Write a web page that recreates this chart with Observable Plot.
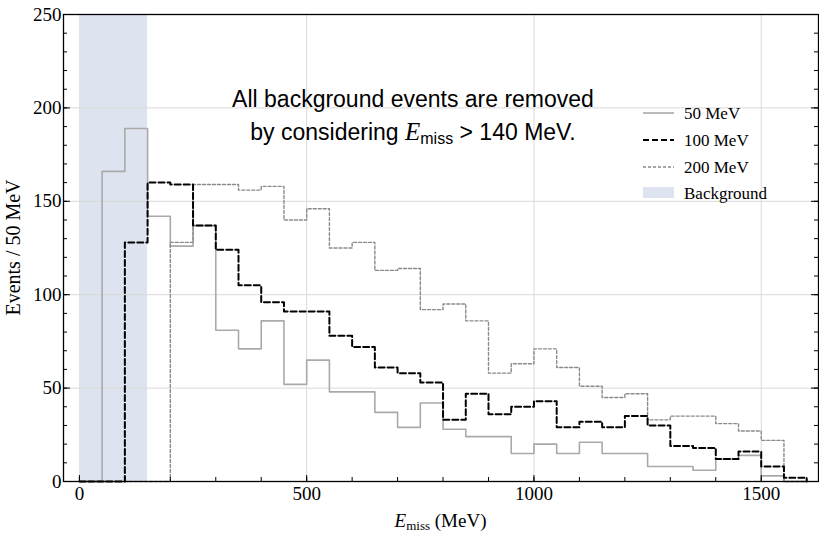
<!DOCTYPE html>
<html><head><meta charset="utf-8">
<script src="https://cdn.jsdelivr.net/npm/d3@7"></script>
<script src="https://cdn.jsdelivr.net/npm/@observablehq/plot@0.6"></script>
<style>
body{margin:0;background:#fff;}
#chart svg{display:block;}
</style></head><body><div id="chart"></div>
<script>
// ---- data (bin starts in MeV, 50 MeV bins) ----
const binStarts = [0,50,100,150,200,250,300,350,400,450,500,550,600,650,700,750,800,850,900,950,1000,1050,1100,1150,1200,1250,1300,1350,1400,1450,1500,1550];
const binEnd = 1600;
const mev50  = [0,166,189,142,126,137,81,71,86,52,65,48,48,37,29,42,28,24,24,15,20,15,21,15,15,8,8,6,12,14,3,0];
const mev100 = [0,0,128,160,159,137,124,105,96,91,91,78,72,61,58,53,33,47,36,40,43,29,32,29,35,30,19,18,12,16,8,2];
const mev200 = [0,0,0,0,128,159,159,156,158,140,146,125,128,113,114,92,95,86,58,63,71,61,51,45,47,33,35,35,31,27,22,0];
const seriesNames = ["50 MeV","100 MeV","200 MeV"];
const backgroundLabel = "Background";
const backgroundBand = [{x1:0, x2:150}];
const xTicks = [0,500,1000,1500];
const yTicks = [0,50,100,150,200,250];
const xMinorTicks = [0,100,200,300,400,500,600,700,800,900,1000,1100,1200,1300,1400,1500,1600];
const yMinorTicks = d3.range(0,251,10);
const xGrid = [500,1000,1500];
const yGrid = [50,100,150,200];
const noteLine1 = "All background events are removed";
const noteLine2 = ["by considering ","E","miss"," > 140 MeV."];
const yLabel = "Events / 50 MeV";
const xLabel = ["E","miss"," (MeV)"];

// ---- build tables ----
function rows(vals){ const r = binStarts.map((x,i)=>({x, y: vals[i]})); r.push({x: binEnd, y: 0}); return r; }
const r50 = rows(mev50), r100 = rows(mev100), r200 = rows(mev200);

const W = 819, H = 533, mL = 63, mR = 1, mT = 14, mB = 52;
const fw = W - mL - mR, fh = H - mT - mB;
const serif = "Liberation Serif";
const styles = [
  {stroke:"#a9a9a9", strokeWidth:1.6, dash:null},
  {stroke:"#000", strokeWidth:2, dash:"6,3"},
  {stroke:"#8a8a8a", strokeWidth:1.4, dash:"3,2"}
];
const bandFill = "#dde3ef";

const chart = Plot.plot({
  width: W, height: H,
  marginLeft: mL, marginRight: mR, marginTop: mT, marginBottom: mB,
  x: {domain: [-35, 1626], axis: null},
  y: {domain: [0, 250], axis: null},
  style: "font-family: 'Liberation Serif'; font-size: 18px; background: white; color: black;",
  marks: [
    Plot.rect(backgroundBand, {x1: "x1", x2: "x2", fill: bandFill}),
    Plot.gridY(yGrid, {stroke: "#d9d9d9", strokeOpacity: 1}),
    Plot.gridX(xGrid, {stroke: "#d9d9d9", strokeOpacity: 1}),
    Plot.line(r50, {x: "x", y: "y", curve: "step-after", stroke: styles[0].stroke, strokeWidth: styles[0].strokeWidth}),
    Plot.line(r200, {x: "x", y: "y", curve: "step-after", stroke: styles[2].stroke, strokeWidth: styles[2].strokeWidth, strokeDasharray: styles[2].dash}),
    Plot.line(r100, {x: "x", y: "y", curve: "step-after", stroke: styles[1].stroke, strokeWidth: styles[1].strokeWidth, strokeDasharray: styles[1].dash}),
    // inward ticks
    Plot.tickY(yMinorTicks, {y: d => d, insetRight: fw - 4, stroke: "#000"}),
    Plot.tickY(yTicks, {y: d => d, insetRight: fw - 7, stroke: "#000"}),
    Plot.tickY(yMinorTicks, {y: d => d, insetLeft: fw - 4, stroke: "#000"}),
    Plot.tickY(yTicks, {y: d => d, insetLeft: fw - 7, stroke: "#000"}),
    Plot.tickX(xMinorTicks, {x: d => d, insetTop: fh - 4, stroke: "#000"}),
    Plot.tickX(xTicks, {x: d => d, insetTop: fh - 6, stroke: "#000"}),
    Plot.frame({stroke: "#000", strokeWidth: 1.3}),
    // tick labels
    Plot.text(yTicks, {y: d => d, text: d => String(d), frameAnchor: "left", textAnchor: "end", dx: -2, fontFamily: serif, fontSize: 19, fill: "#000"}),
    Plot.text(xTicks, {x: d => d, text: d => String(d), frameAnchor: "bottom", lineAnchor: "top", dy: 5, fontFamily: serif, fontSize: 19, fill: "#000"})
  ]
});
document.getElementById("chart").appendChild(chart);

const svg = d3.select(chart);

// ---- annotations, labels, legend ----
const g = svg.append("g").attr("text-anchor", "start");
// y label
g.append("text").attr("transform", `translate(20,${mT + fh/2}) rotate(-90)`)
  .attr("text-anchor","middle").attr("font-family",serif).attr("font-size",20).text(yLabel);
// x label
const xl = g.append("text").attr("x", mL + fw/2).attr("y", 527).attr("text-anchor","middle")
  .attr("font-family",serif).attr("font-size",19);
xl.append("tspan").attr("font-style","italic").text(xLabel[0]);
xl.append("tspan").attr("font-size",13).attr("dy",3).text(xLabel[1]);
xl.append("tspan").attr("dy",-3).text(xLabel[2]);
// note
const nx = 413;
g.append("text").attr("x", nx).attr("y", 107).attr("text-anchor","middle")
  .attr("font-family","Liberation Sans").attr("font-size",23).text(noteLine1);
const n2 = g.append("text").attr("x", nx).attr("y", 140).attr("text-anchor","middle")
  .attr("font-family","Liberation Sans").attr("font-size",23);
n2.append("tspan").text(noteLine2[0]);
n2.append("tspan").attr("font-family",serif).attr("font-style","italic").attr("font-size",25).text(noteLine2[1]);
n2.append("tspan").attr("font-size",16).attr("dy",4).text(noteLine2[2]);
n2.append("tspan").attr("dy",-4).text(noteLine2[3]);
// legend
const lx0 = 643, lx1 = 674, ly = [113, 140, 167, 193];
seriesNames.forEach((name, i) => {
  const s = styles[i];
  g.append("line").attr("x1", lx0).attr("x2", lx1).attr("y1", ly[i]).attr("y2", ly[i])
    .attr("stroke", s.stroke).attr("stroke-width", s.strokeWidth).attr("stroke-dasharray", s.dash);
  g.append("text").attr("x", 684).attr("y", ly[i]).attr("dy","0.33em").attr("text-anchor","start")
    .attr("font-family",serif).attr("font-size",17).text(name);
});
g.append("rect").attr("x", lx0).attr("y", ly[3]-6).attr("width", lx1-lx0).attr("height", 11).attr("fill", bandFill);
g.append("text").attr("x", 684).attr("y", ly[3]).attr("dy","0.33em").attr("text-anchor","start")
  .attr("font-family",serif).attr("font-size",17).text(backgroundLabel);
</script></body></html>
